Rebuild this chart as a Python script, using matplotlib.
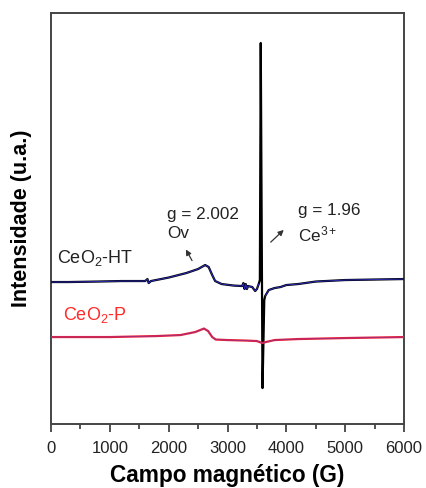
import numpy as np
import matplotlib
matplotlib.use("Agg")
import matplotlib.pyplot as plt
from matplotlib.ticker import MultipleLocator

# ---- data (field in G, intensity in arbitrary units) ----
ht_field = [0, 300, 800, 1200, 1600, 1640, 1660, 1700, 2000, 2300, 2500, 2620, 2680,
            2740, 2790, 2900, 3100, 3250, 3270, 3290, 3310, 3330, 3350, 3420, 3470,
            3500, 3530, 3550, 3565, 3595, 3625, 3640, 3700, 3800, 3900, 4000, 4200,
            4500, 5000, 5500, 6000]
ht_int = [142, 142, 142.5, 143, 143, 145, 141, 143, 146.5, 151, 155, 159, 157,
          149, 143, 140, 138.5, 138, 141, 135, 140, 135, 138, 137, 133,
          135, 140, 144, 381, 36, 124, 128, 134, 136, 137, 139, 140,
          142.5, 144, 144.5, 145]

p_field = [0, 1000, 1800, 2200, 2450, 2600, 2670, 2740, 2800, 3000, 3300, 3500,
           3590, 3650, 3800, 4200, 5000, 6000]
p_int = [87, 87, 88, 89, 92, 95.5, 93, 87, 84.5, 84, 83.5, 83,
         81, 82, 84, 85, 86, 87]

labels = ["CeO$_2$-HT", "CeO$_2$-P"]
x_ticks = [0, 1000, 2000, 3000, 4000, 5000, 6000]

plt.rcParams['font.family'] = ['Liberation Sans', 'DejaVu Sans']
plt.rcParams['mathtext.fontset'] = 'custom'
plt.rcParams['mathtext.rm'] = 'Liberation Sans'
plt.rcParams['mathtext.it'] = 'Liberation Sans'

fig = plt.figure(figsize=(4.26, 4.88), dpi=100)
ax = fig.add_axes([0.1197, 0.131, 0.8287, 0.8424])

htf = np.array(ht_field, float)
hti = np.array(ht_int, float)
pf = np.array(p_field, float)
pi = np.array(p_int, float)

# HT: black trace + blue overlay (without spike)
ax.plot(htf, hti, color='black', lw=1.6, zorder=3)
hti_blue = hti.copy()
hti_blue[(htf > 3540) & (htf < 3640)] = np.nan
ax.plot(htf, hti_blue, color='#2a2ab8', lw=0.7, zorder=4)

# P: red trace + blue overlay
ax.plot(pf, pi, color='#ea2038', lw=1.6, zorder=3)
ax.plot(pf, pi, color='#6a3ab0', lw=0.5, alpha=0.7, zorder=4)

ax.set_xlim(0, 6000)
ax.set_ylim(0, 411)
ax.set_xticks(x_ticks)
ax.xaxis.set_minor_locator(MultipleLocator(500))
ax.set_yticks([])
ax.tick_params(axis='x', which='major', direction='out', length=6, width=1.2,
               labelsize=12, colors='#333333', labelcolor='#222222', pad=6)
ax.tick_params(axis='x', which='minor', direction='out', length=3.5, width=1.2,
               colors='#333333')
for s in ax.spines.values():
    s.set_color('#444444')
    s.set_linewidth(1.4)

ax.set_xlabel("Campo magnético (G)", fontsize=16.3, fontweight='bold', labelpad=6)
ax.set_ylabel("Intensidade (u.a.)", fontsize=15.5, fontweight='bold', labelpad=14)

ax.text(100, 166, labels[0], fontsize=13, color='#222222', ha='left', va='center')
ax.text(200, 109, labels[1], fontsize=13, color='#ff2a2a', ha='left', va='center')

ax.text(1970, 200, "g = 2.002\nOv", fontsize=12.3, color='#222222', ha='left',
        va='center', linespacing=1.4)
ax.text(4200, 200, "g = 1.96\n$\\mathregular{Ce^{3+}}$", fontsize=12.3,
        color='#222222', ha='left', va='center', linespacing=1.4)

ax.annotate("", xy=(2270, 177), xytext=(2420, 161),
            arrowprops=dict(arrowstyle='-|>', color='#333333', lw=0.9,
                            mutation_scale=8))
ax.annotate("", xy=(3990, 196), xytext=(3700, 180),
            arrowprops=dict(arrowstyle='-|>', color='#333333', lw=0.9,
                            mutation_scale=8))

fig.savefig("out.png", dpi=100)
